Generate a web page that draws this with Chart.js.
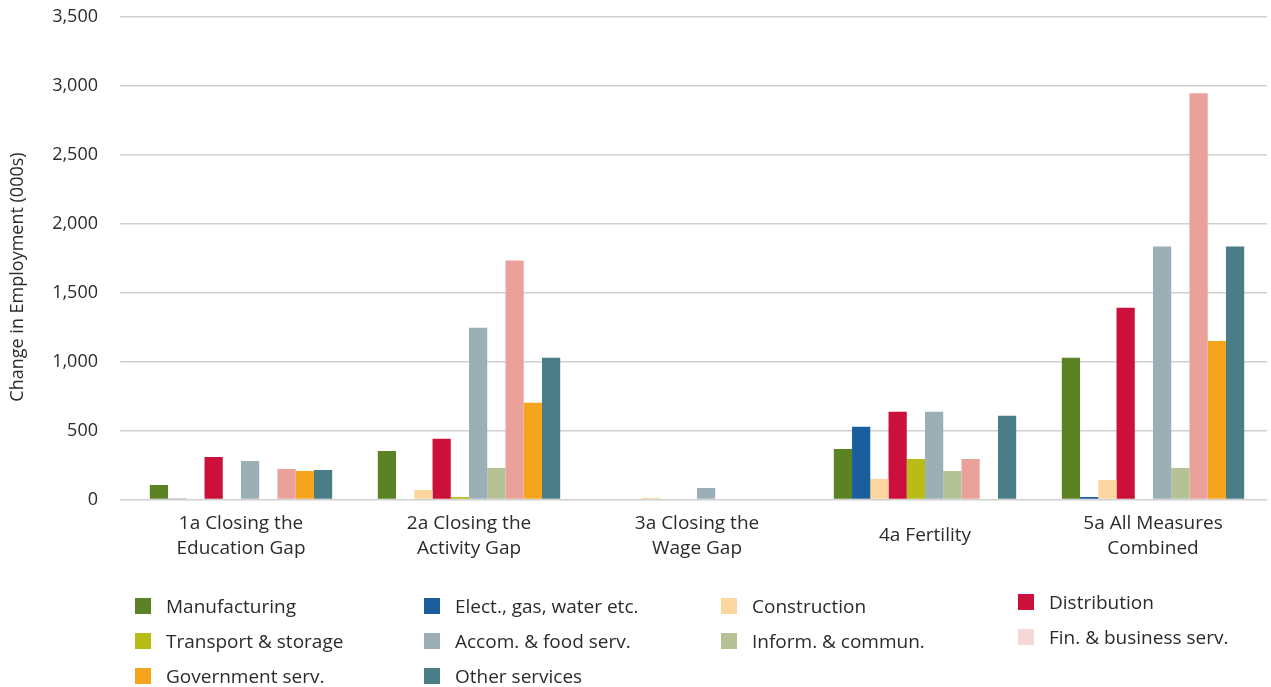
<!DOCTYPE html>
<html>
<head>
<meta charset="utf-8">
<script src="https://cdn.jsdelivr.net/npm/chart.js@4.4.0/dist/chart.umd.min.js"></script>
<style>
  body { margin: 0; background: #fff; font-family: "Open Sans", sans-serif; }
  #wrap { position: relative; width: 1271px; height: 687px; }
  #legend { position: absolute; left: 0; top: 0; width: 100%; height: 100%; pointer-events: none; }
  .item { position: absolute; display: flex; align-items: center; height: 16px; line-height: 16px; font-size: 19px; color: #2b2b2b; white-space: nowrap; }
  .box { width: 16px; height: 16px; margin-right: 15px; flex: none; }
</style>
</head>
<body>
<div id="wrap">
  <canvas id="myChart"></canvas>
  <div id="legend"></div>
</div>
<script>
// Kategorien (Szenarien)
const categories = [
  ["1a Closing the", "Education Gap"],
  ["2a Closing the", "Activity Gap"],
  ["3a Closing the", "Wage Gap"],
  "4a Fertility",
  ["5a All Measures", "Combined"]
];

// Sektoren
const sectors = [
  "Manufacturing", "Elect., gas, water etc.", "Construction", "Distribution",
  "Transport & storage", "Accom. & food serv.", "Inform. & commun.",
  "Fin. & business serv.", "Government serv.", "Other services"
];

// Werte je Sektor (000s)
const manufacturing = [105, 352, 0, 367, 1028];
const elect = [8, 0, 0, 527, 18];
const construction = [0, 69, 12, 149, 142];
const distribution = [309, 440, 0, 636, 1391];
const transport = [0, 18, 0, 294, 0];
const accom = [280, 1246, 84, 636, 1835];
const inform = [0, 229, 0, 207, 229];
const finance = [222, 1733, 0, 294, 2946];
const government = [207, 701, 0, 0, 1150];
const otherServices = [214, 1028, 0, 607, 1835];

const values = [manufacturing, elect, construction, distribution, transport,
  accom, inform, finance, government, otherServices];

const yTicks = [0, 500, 1000, 1500, 2000, 2500, 3000, 3500];

// Farben
const barColors = ["#5c8226", "#1a5e9e", "#fdd69f", "#cc103c", "#b9bc17",
  "#9bb0b6", "#b5c295", "#e9a19a", "#f6a41d", "#4a7d87"];
const legendColors = ["#5c8226", "#1a5e9e", "#fdd69f", "#cc103c", "#b9bc17",
  "#9bb0b6", "#b5c295", "#f4d8d8", "#f6a41d", "#4a7d87"];

const textColor = "#2b2b2b";
const fontFamily = '"Open Sans", sans-serif';

// y-Achsentitel als Plugin zeichnen
const yTitle = {
  id: "yTitle",
  afterDraw(chart) {
    const ctx = chart.ctx;
    ctx.save();
    ctx.translate(18, 277);
    ctx.rotate(-Math.PI / 2);
    ctx.font = "18px " + fontFamily;
    ctx.fillStyle = textColor;
    ctx.textAlign = "center";
    ctx.textBaseline = "middle";
    ctx.fillText("Change in Employment (000s)", 0, 0);
    ctx.restore();
  }
};

let ctx = document.getElementById("myChart").getContext("2d");
new Chart(ctx, {
  type: "bar",
  data: {
    labels: categories,
    datasets: sectors.map((name, i) => ({
      label: name,
      data: values[i],
      backgroundColor: barColors[i],
      barPercentage: 1,
      categoryPercentage: 0.8
    }))
  },
  options: {
    responsive: true,
    maintainAspectRatio: false,
    animation: false,
    layout: { padding: { top: 17, right: 4, bottom: 89.5, left: 0 } },
    plugins: {
      legend: { display: false },
      tooltip: { enabled: false }
    },
    scales: {
      x: {
        grid: { display: false, drawTicks: false },
        border: { display: false },
        ticks: {
          color: textColor,
          font: { family: fontFamily, size: 19, lineHeight: 25 / 19 },
          padding: 24,
          maxRotation: 0,
          autoSkip: false
        },
        afterFit: (scale) => { scale.options.ticks.crossAlign = "center"; }
      },
      y: {
        min: 0,
        max: 3500,
        afterBuildTicks: (scale) => { scale.ticks = yTicks.map(v => ({ value: v })); },
        afterFit: (scale) => {
          scale.width = 127;
          scale.paddingTop = 0;
          scale.paddingBottom = 0;
        },
        grid: { color: "#d0d0d0", lineWidth: 1.5, tickLength: 7 },
        border: { display: false },
        ticks: {
          color: textColor,
          font: { family: fontFamily, size: 18 },
          padding: 22,
          callback: (v) => v.toLocaleString("en-US")
        }
      }
    }
  },
  plugins: [yTitle]
});

// Legende in vier Spalten aufbauen
const legendCols = [135, 424, 721, 1018];
const legendRows = [598, 633, 668];
const legend = document.getElementById("legend");
sectors.forEach((name, i) => {
  const col = i % 4;
  const row = Math.floor(i / 4);
  const item = document.createElement("div");
  item.className = "item";
  item.style.left = legendCols[col] + "px";
  item.style.top = (legendRows[row] - (col === 3 ? 4 : 0)) + "px";
  item.innerHTML = '<span class="box" style="background:' + legendColors[i] + '"></span>' + name;
  legend.appendChild(item);
});
</script>
</body>
</html>
